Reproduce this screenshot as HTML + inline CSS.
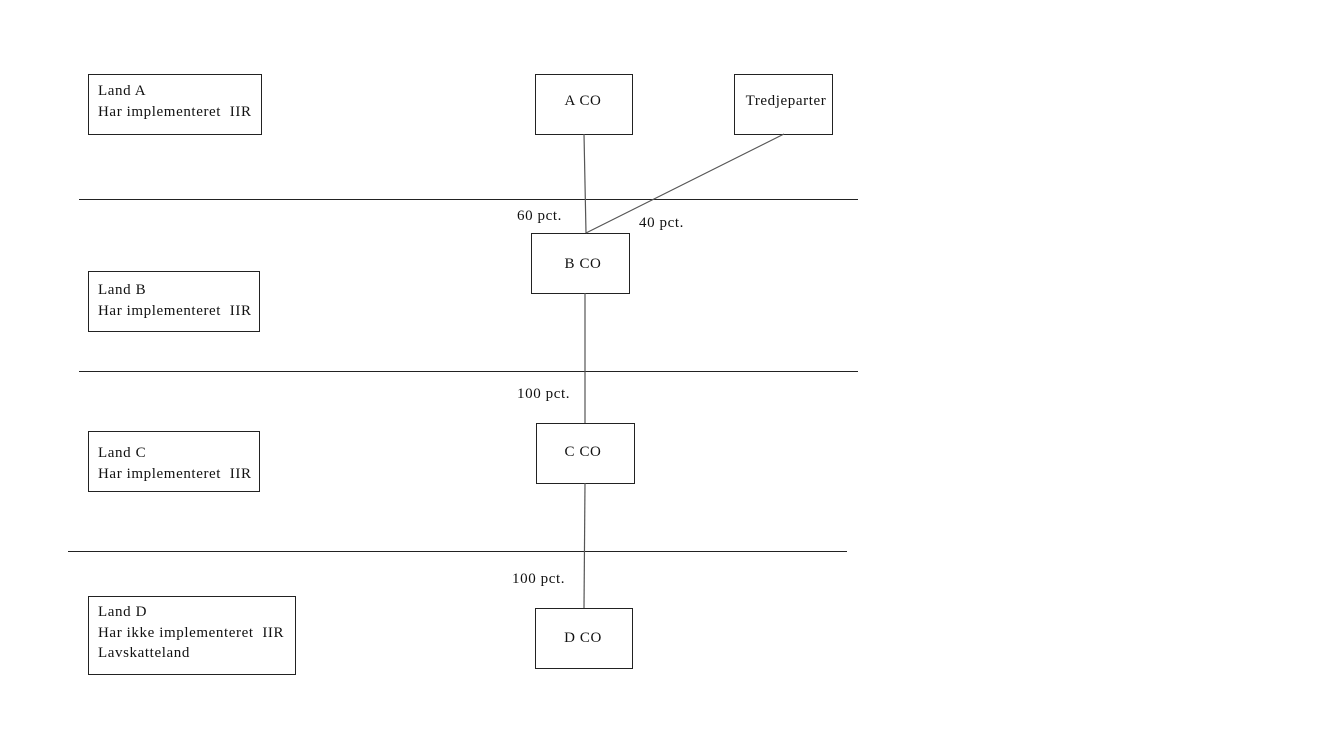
<!DOCTYPE html>
<html><head><meta charset="utf-8"><style>
html,body{margin:0;padding:0;background:#fff;}
svg{display:block;}
text{font-family:"Liberation Serif",serif;font-size:15px;letter-spacing:0.6px;fill:#111;}
</style></head><body>
<svg width="1320" height="742" viewBox="0 0 1320 742" xmlns="http://www.w3.org/2000/svg">
<g fill="none" stroke="#222" stroke-width="1">
<rect x="88.5" y="74.5" width="173" height="60"/>
<rect x="88.5" y="271.5" width="171" height="60"/>
<rect x="88.5" y="431.5" width="171" height="60"/>
<rect x="88.5" y="596.5" width="207" height="78"/>
<rect x="535.5" y="74.5" width="97" height="60"/>
<rect x="734.5" y="74.5" width="98" height="60"/>
<rect x="531.5" y="233.5" width="98" height="60"/>
<rect x="536.5" y="423.5" width="98" height="60"/>
<rect x="535.5" y="608.5" width="97" height="60"/>
<line x1="79" y1="199.5" x2="858" y2="199.5"/>
<line x1="79" y1="371.5" x2="858" y2="371.5"/>
<line x1="68" y1="551.5" x2="847" y2="551.5"/>
</g>
<g stroke="#555" stroke-width="1.2" fill="none">
<line x1="584" y1="134" x2="586" y2="233"/>
<line x1="784" y1="134" x2="586" y2="233"/>
<line x1="585" y1="293" x2="585" y2="423"/>
<line x1="585" y1="483" x2="584" y2="608"/>
</g>
<text x="98" y="95">Land A</text>
<text x="98" y="116">Har implementeret&#160; IIR</text>
<text x="98" y="294">Land B</text>
<text x="98" y="315">Har implementeret&#160; IIR</text>
<text x="98" y="457">Land C</text>
<text x="98" y="478">Har implementeret&#160; IIR</text>
<text x="98" y="616">Land D</text>
<text x="98" y="637">Har ikke implementeret&#160; IIR</text>
<text x="98" y="657">Lavskatteland</text>
<text x="583" y="105" text-anchor="middle">A CO</text>
<text x="786" y="105" text-anchor="middle">Tredjeparter</text>
<text x="583" y="268" text-anchor="middle">B CO</text>
<text x="583" y="456" text-anchor="middle">C CO</text>
<text x="583" y="642" text-anchor="middle">D CO</text>
<text x="517" y="220">60 pct.</text>
<text x="639" y="227">40 pct.</text>
<text x="517" y="398">100 pct.</text>
<text x="512" y="583">100 pct.</text>
</svg>
</body></html>
